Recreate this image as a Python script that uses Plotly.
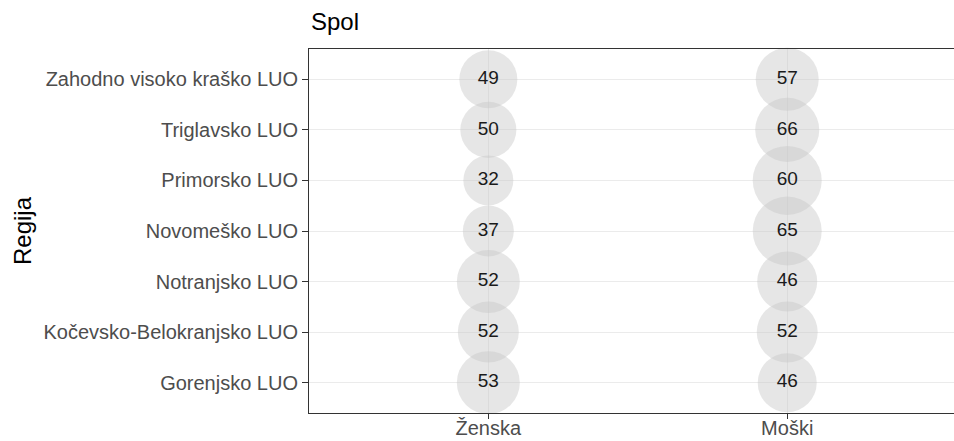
import plotly.graph_objects as go

# --- data ---
regije = [
    "Zahodno visoko kraško LUO",
    "Triglavsko LUO",
    "Primorsko LUO",
    "Novomeško LUO",
    "Notranjsko LUO",
    "Kočevsko-Belokranjsko LUO",
    "Gorenjsko LUO",
]
spol = ["Ženska", "Moški"]
vrednosti_zenska = [49, 50, 32, 37, 52, 52, 53]
vrednosti_moski = [57, 66, 60, 65, 46, 52, 46]
# size variable (bubble area)
velikost_zenska = [336, 314, 250, 260, 397, 372, 397]
velikost_moski = [397, 410, 476, 476, 360, 372, 348]

FONT = "Liberation Sans, Arial, sans-serif"

fig = go.Figure()
for s, vals, sizes in [(spol[0], vrednosti_zenska, velikost_zenska),
                       (spol[1], vrednosti_moski, velikost_moski)]:
    fig.add_trace(go.Scatter(
        x=[s] * len(regije),
        y=regije,
        mode="markers+text",
        text=[str(v) for v in vals],
        textposition="middle center",
        textfont=dict(family=FONT, size=19, color="#1A1A1A"),
        marker=dict(size=sizes, sizemode="area", sizeref=0.2,
                    color="rgba(200,200,200,0.65)", line=dict(width=0)),
        hoverinfo="skip",
        showlegend=False,
        cliponaxis=False,
    ))

fig.update_layout(
    width=954, height=441,
    margin=dict(l=309, r=0, t=49, b=28, autoexpand=False),
    paper_bgcolor="white", plot_bgcolor="white",
    font=dict(family=FONT, color="#4D4D4D"),
    xaxis=dict(
        type="category", categoryorder="array", categoryarray=spol,
        range=[-0.6, 1.558],
        showgrid=True, gridcolor="#EBEBEB", gridwidth=1,
        showline=True, mirror=True, linecolor="#333333", linewidth=1,
        ticks="outside", ticklen=5, tickwidth=1.3, tickcolor="#333333",
        tickfont=dict(size=20, color="#4D4D4D", family=FONT),
        ticklabelstandoff=-8, automargin=False,
        zeroline=False, fixedrange=True,
    ),
    yaxis=dict(
        type="category", categoryorder="array", categoryarray=regije[::-1],
        range=[-0.6, 6.6],
        showgrid=True, gridcolor="#EBEBEB", gridwidth=1,
        showline=True, mirror=False, linecolor="#333333", linewidth=1,
        ticks="outside", ticklen=6, tickwidth=1.3, tickcolor="#333333",
        tickfont=dict(size=20, color="#4D4D4D", family=FONT),
        automargin=False,
        zeroline=False, fixedrange=True,
    ),
    annotations=[
        dict(text="Spol", xref="paper", yref="paper", x=0, y=1,
             xanchor="left", yanchor="bottom", yshift=12, showarrow=False,
             font=dict(size=24, color="black", family=FONT)),
        dict(text="Regija", xref="paper", yref="paper", x=(22 - 309) / 645, y=0.5,
             xanchor="center", yanchor="middle", textangle=-90, showarrow=False,
             font=dict(size=24, color="black", family=FONT)),
    ],
)

fig.write_html(
    "out.html",
    config={"displayModeBar": False},
    post_script="document.body.style.margin='0';document.body.style.overflow='hidden';",
)
